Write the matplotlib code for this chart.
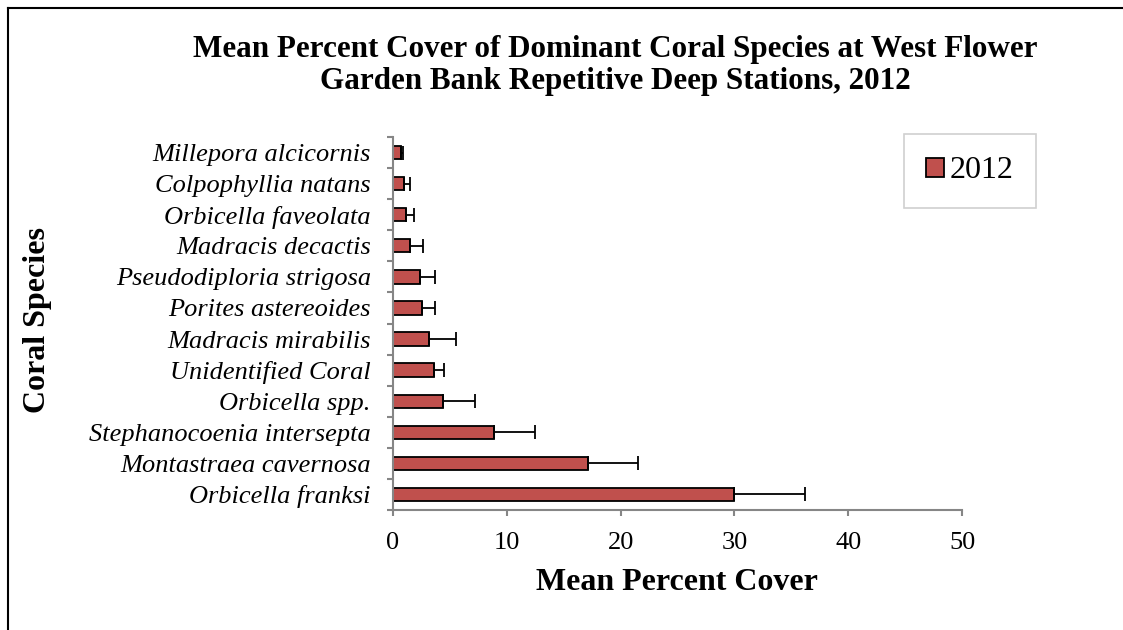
import numpy as np
from matplotlib import pyplot as plt
from matplotlib.patches import Patch

# data, listed bottom to top as drawn
species = ['Orbicella franksi', 'Montastraea cavernosa', 'Stephanocoenia intersepta',
           'Orbicella spp.', 'Unidentified Coral', 'Madracis mirabilis',
           'Porites astereoides', 'Pseudodiploria strigosa', 'Madracis decactis',
           'Orbicella faveolata', 'Colpophyllia natans', 'Millepora alcicornis']
mean_cover = [30.0, 17.15, 8.9, 4.4, 3.6, 3.2, 2.55, 2.4, 1.5, 1.1, 0.95, 0.68]
std_err = [6.2, 4.4, 3.6, 2.8, 0.9, 2.3, 1.15, 1.3, 1.1, 0.7, 0.5, 0.2]

plt.rcParams['font.family'] = ['Liberation Serif', 'DejaVu Serif']

fig = plt.figure(figsize=(11.23, 6.3), dpi=100)
ax = fig.add_axes([0.35, 0.1905, 0.5067, 0.592])

y = np.arange(len(species))
ax.barh(y, mean_cover, height=0.43, color='#C0504D', edgecolor='black', linewidth=1.3,
        xerr=[np.zeros(len(std_err)), std_err],
        error_kw=dict(ecolor='black', elinewidth=1.3, capsize=4.7, capthick=1.3))

ax.set_xlim(0, 50)
ax.set_ylim(-0.5, len(species) - 0.5)
ax.set_xticks([0, 10, 20, 30, 40, 50])
ax.set_yticks(y)
ax.set_yticklabels(species, fontstyle='italic', fontsize=19)
ax.set_yticks(np.arange(-0.5, len(species)), minor=True)
ax.tick_params(axis='y', which='major', length=0, pad=16)
ax.tick_params(axis='y', which='minor', length=4.5, width=1.5, color='#868686')
ax.tick_params(axis='x', length=4.5, width=1.5, color='#868686', labelsize=19, pad=11)

for s in ['top', 'right']:
    ax.spines[s].set_visible(False)
for s in ['left', 'bottom']:
    ax.spines[s].set_color('#868686')
    ax.spines[s].set_linewidth(1.5)

fig.text(615 / 1123, 1 - 49 / 630, 'Mean Percent Cover of Dominant Coral Species at West Flower',
         ha='center', va='center', fontsize=22.4, fontweight='bold')
fig.text(615 / 1123, 1 - 82 / 630, 'Garden Bank Repetitive Deep Stations, 2012',
         ha='center', va='center', fontsize=22.4, fontweight='bold')
fig.text(677 / 1123, 1 - 582 / 630, 'Mean Percent Cover', ha='center', va='center',
         fontsize=23, fontweight='bold')
fig.text(38 / 1123, 1 - 320 / 630, 'Coral Species', ha='center', va='center',
         rotation=90, fontsize=23, fontweight='bold')

handle = Patch(facecolor='#C0504D', edgecolor='black', linewidth=1.3)
leg = fig.legend([handle], ['2012'], loc='center', bbox_to_anchor=(970 / 1123, 1 - 171 / 630),
                 fontsize=23, fancybox=False, framealpha=1, edgecolor='#d0d0d0',
                 handlelength=0.55, handleheight=0.55, handletextpad=0.2,
                 borderpad=0.7, borderaxespad=0)
leg.get_frame().set_linewidth(1.2)

# outer border (top and left visible in the reference)
fig.add_artist(plt.Line2D([8 / 1123, 8 / 1123], [0, 1 - 8 / 630], color='black', lw=1.5,
                          transform=fig.transFigure))
fig.add_artist(plt.Line2D([8 / 1123, 1], [1 - 8 / 630, 1 - 8 / 630], color='black', lw=1.5,
                          transform=fig.transFigure))

plt.savefig('out.png', dpi=100)
